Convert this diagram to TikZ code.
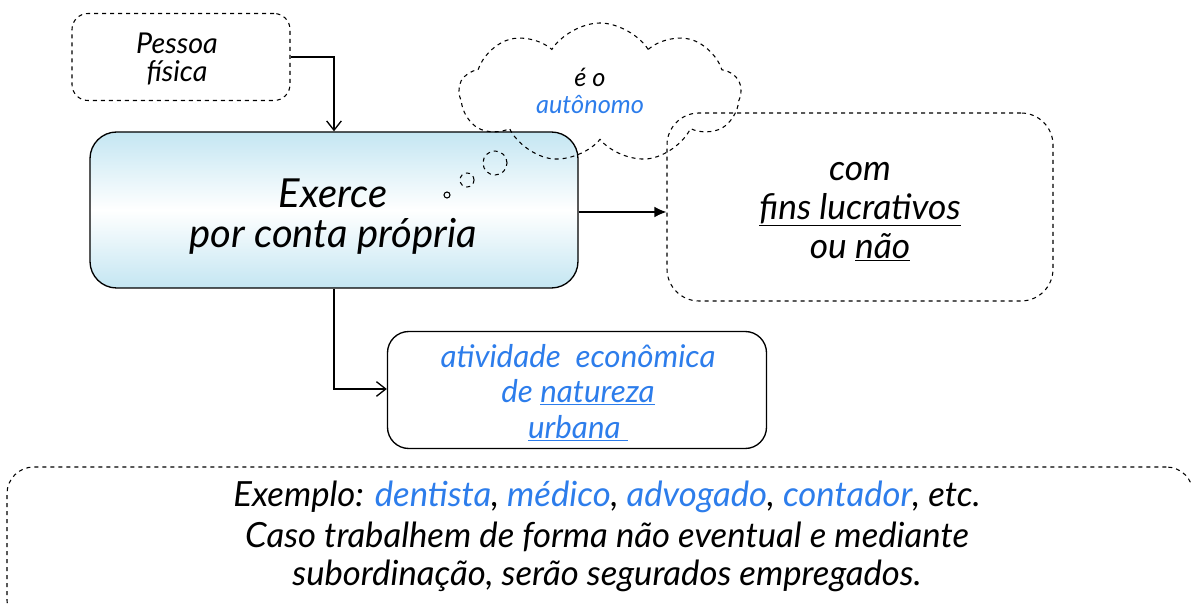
\documentclass[tikz,border=0pt]{standalone}
\usepackage{fontspec}
\setmainfont{Lato}
\usetikzlibrary{arrows.meta,shapes.symbols}
\definecolor{tb}{RGB}{45,125,235}
\definecolor{boxblue}{RGB}{196,230,242}
\tikzset{
  dbox/.style={draw, dashed, rounded corners=#1, line width=0.8pt},
  sbox/.style={draw, rounded corners=#1, line width=1pt},
  openarrow/.style={line width=1pt, -{Straight Barb[length=7pt,width=11pt,line width=1pt]}},
  fillarrow/.style={line width=1pt, -{Latex[length=9pt,width=8pt]}},
  txt/.style={align=center, font=\fontsize{#1}{#1}\selectfont\itshape, inner sep=0pt},
}
\begin{document}
\begin{tikzpicture}[x=0.75pt,y=-0.75pt]
\useasboundingbox (0,0) rectangle (1191,605);
\clip (0,0) rectangle (1191,605);
% boxes
\node[dbox=12pt, minimum width=218*0.75pt, minimum height=87*0.75pt] (pf) at (181,57) {};
\node[txt=21.5] (pf1) at (177,43) {Pessoa};
\node[txt=21.5] (pf2) at (177,73) {física};

\node[sbox=20pt, top color=boxblue, bottom color=boxblue, middle color=white, minimum width=488*0.75pt, minimum height=156*0.75pt] (main) at (334,210) {};
\node[txt=30] (m1) at (333,193) {Exerce};
\node[txt=30] (m2) at (333,236) {por conta própria};

\node[dbox=24pt, minimum width=386*0.75pt, minimum height=188*0.75pt] (fins) at (860,207) {};
\node[txt=26.5] (f1) at (860,172) {com};
\node[txt=26.5] (f2) at (860,210) {\underline{fins lucrativos}};
\node[txt=26.5] (f3) at (860,247) {ou \underline{não}};

\node[sbox=16pt, minimum width=379*0.75pt, minimum height=117*0.75pt] (ativ) at (577,390) {};
\node[txt=23.5, text=tb] (a1) at (578,356) {atividade\ \ econômica};
\node[txt=23.5, text=tb] (a2) at (578,392) {de \underline{natureza}};
\node[txt=23.5, text=tb] (a3) at (578,428) {\underline{urbana\ }};

\node[dbox=20pt, minimum width=1186*0.75pt, minimum height=160*0.75pt] (ex) at (600,547) {};
\node[txt=26] (e1) at (607,497) {Exemplo: {\color{tb}dentista}, {\color{tb}médico}, {\color{tb}advogado}, {\color{tb}contador}, etc.};
\node[txt=26] (e2) at (607,537) {Caso trabalhem de forma não eventual e mediante};
\node[txt=26] (e3) at (607,576) {subordinação, serão segurados empregados.};

% connectors
\coordinate (c1) at (334,57);
\draw[openarrow] (pf.east |- c1) -| (main.north -| c1);
\coordinate (c3) at (0,212);
\draw[fillarrow] (main.east |- c3) -- (fins.west |- c3);
\coordinate (c2) at (334,389);
\draw[openarrow] (main.south -| c2) |- (ativ.west |- c2);

% cloud
\node[cloud, draw, dashed, line width=0.8pt, cloud puffs=9, cloud puff arc=115, aspect=2, minimum width=282*0.75pt, minimum height=140*0.75pt] (cl) at (600,93) {};
\node[txt=19] (k1) at (590,77) {é o};
\node[txt=19, text=tb] (k2) at (590,105) {autônomo};
\draw[dashed, line width=0.8pt] (495,163) circle (12*0.75pt);
\draw[dashed, line width=0.8pt] (467,180) circle (7*0.75pt);
\draw[line width=0.8pt] (447,195) circle (3*0.75pt);
\end{tikzpicture}
\end{document}
